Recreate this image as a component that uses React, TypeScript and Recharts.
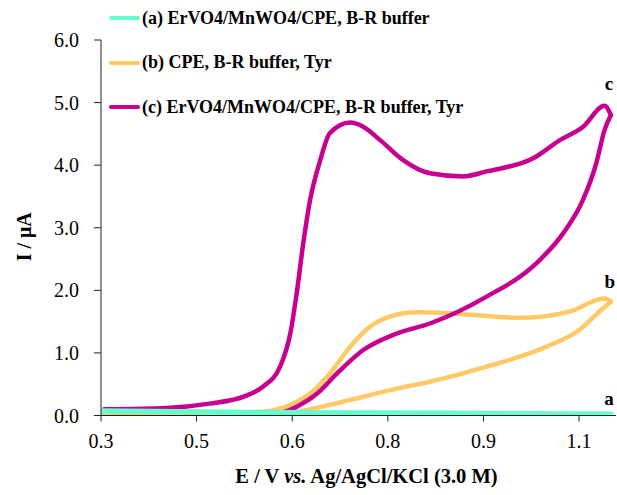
import React from "react";
import { LineChart, Line, XAxis, YAxis, Legend, LabelList } from "recharts";

const FONT = '"Liberation Serif", "Times New Roman", serif';

// (a) ErVO4/MnWO4/CPE in buffer only
const potentialA = [0.3, 0.5, 0.7, 0.9, 1.1];
const currentA = [0.07, 0.05, 0.04, 0.03, 0.02];

// (b) bare CPE with Tyr, anodic sweep then return sweep
const potentialBfwd = [0.3, 0.4, 0.5, 0.555, 0.597, 0.628, 0.659, 0.691, 0.722, 0.753, 0.795, 0.853, 0.905, 0.957, 1.035, 1.09, 1.1];
const currentBfwd = [0.03, 0.03, 0.04, 0.06, 0.17, 0.35, 0.67, 1.1, 1.42, 1.58, 1.65, 1.63, 1.59, 1.56, 1.66, 1.87, 1.82];
const potentialBrev = [1.1, 1.085, 1.051, 0.999, 0.905, 0.816, 0.764, 0.712, 0.659, 0.607, 0.555, 0.45, 0.3];
const currentBrev = [1.82, 1.69, 1.37, 1.1, 0.78, 0.54, 0.43, 0.3, 0.17, 0.06, 0.01, 0.0, 0.0];

// (c) modified electrode with Tyr
const potentialCfwd = [0.305, 0.403, 0.47, 0.526, 0.554, 0.581, 0.597, 0.607, 0.618, 0.628, 0.644, 0.659, 0.691, 0.712, 0.738, 0.774, 0.816, 0.868, 0.905, 0.978, 1.02, 1.056, 1.09, 1.1];
const currentCfwd = [0.1, 0.12, 0.19, 0.31, 0.46, 0.78, 1.31, 1.95, 2.8, 3.44, 4.08, 4.51, 4.68, 4.61, 4.4, 4.08, 3.87, 3.82, 3.9, 4.11, 4.4, 4.61, 4.95, 4.8];
const potentialCrev = [1.1, 1.09, 1.077, 1.056, 1.025, 0.983, 0.905, 0.816, 0.764, 0.712, 0.67, 0.639, 0.607, 0.555, 0.45, 0.305];
const currentCrev = [4.8, 4.56, 4.03, 3.44, 2.91, 2.43, 1.9, 1.47, 1.31, 1.05, 0.67, 0.35, 0.14, -0.02, -0.08, -0.1];

const xTicks = [0.3, 0.45, 0.6, 0.75, 0.9, 1.05];
const xTickLabels = ["0.3", "0.5", "0.6", "0.8", "0.9", "1.1"];
const yTicks = [0, 1, 2, 3, 4, 5, 6];

const zip = (e: number[], i: number[]) => e.map((v, k) => ({ e: v, i: i[k] }));

const series = [
  { key: "a", name: "(a) ErVO4/MnWO4/CPE, B-R buffer", color: "#66FFCC", width: 5.5, fwd: zip(potentialA, currentA), rev: null as any, labelDx: -2, labelDy: -9 },
  { key: "b", name: "(b) CPE, B-R buffer, Tyr", color: "#FFC966", width: 4.5, fwd: zip(potentialBfwd, currentBfwd), rev: zip(potentialBrev, currentBrev), labelDx: -1, labelDy: -14 },
  { key: "c", name: "(c) ErVO4/MnWO4/CPE, B-R buffer, Tyr", color: "#C8008F", width: 4.5, fwd: zip(potentialCfwd, currentCfwd), rev: zip(potentialCrev, currentCrev), labelDx: -2, labelDy: -25 },
];

const tickStyle = { fill: "#000", fontSize: 20, fontFamily: FONT };

const renderLegend = () => (
  <div style={{ fontFamily: FONT, fontWeight: "bold", fontSize: 18, color: "#000", whiteSpace: "nowrap" }}>
    {series.map((s) => (
      <div key={s.key} style={{ display: "flex", alignItems: "center", height: 44.6 }}>
        <span style={{ display: "inline-block", width: 31, height: 4, background: s.color, borderRadius: 2, marginRight: 2 }} />
        <span>{s.name}</span>
      </div>
    ))}
  </div>
);

export default function App() {
  // draw b, c, then a on top
  const order = [series[1], series[2], series[0]];

  return (
    <div style={{ position: "absolute", left: 0, top: 0, width: 617, height: 495, background: "#fff" }}>
      <LineChart width={617} height={495} margin={{ top: 40, right: 1, bottom: 19.5, left: 0 }}>
        <XAxis
          dataKey="e"
          type="number"
          domain={[0.3, 1.108]}
          ticks={xTicks}
          interval={0}
          tickFormatter={(v: number) => xTickLabels[xTicks.indexOf(v)]}
          tick={tickStyle}
          tickSize={6}
          tickMargin={12}
          height={60}
          stroke="#222"
          allowDataOverflow
          label={{
            content: (p: any) => (
              <text
                x={p.viewBox.x + p.viewBox.width / 2 + 8}
                y={p.viewBox.y + 67}
                textAnchor="middle"
                fontFamily={FONT}
                fontWeight="bold"
                fontSize={20.5}
                fill="#000"
              >
                E / V <tspan fontStyle="italic">vs.</tspan> Ag/AgCl/KCl (3.0 M)
              </text>
            ),
          }}
        />
        <YAxis
          type="number"
          domain={[0, 6]}
          ticks={yTicks}
          interval={0}
          tickFormatter={(v: number) => v.toFixed(1)}
          tick={tickStyle}
          tickSize={7}
          tickMargin={15}
          width={101}
          stroke="#222"
          allowDataOverflow
          label={{
            content: (p: any) => {
              const cx = 24;
              const cy = p.viewBox.y + p.viewBox.height / 2 + 9;
              return (
                <text
                  x={cx}
                  y={cy}
                  transform={`rotate(-90 ${cx} ${cy})`}
                  textAnchor="middle"
                  dominantBaseline="central"
                  fontFamily={FONT}
                  fontWeight="bold"
                  fontSize={20}
                  fill="#000"
                >
                  I / μA
                </text>
              );
            },
          }}
        />
        <Legend
          layout="horizontal"
          align="center"
          verticalAlign="middle"
          content={renderLegend}
          wrapperStyle={{ top: -4, left: 109, width: 420 }}
        />
        {order.map((s) => [
          s.rev ? (
            <Line
              key={s.key + "-rev"}
              data={s.rev}
              dataKey="i"
              type="monotone"
              stroke={s.color}
              strokeWidth={s.width}
              strokeLinecap="round"
              dot={false}
              activeDot={false}
              isAnimationActive={false}
            />
          ) : null,
          <Line
            key={s.key + "-fwd"}
            data={s.fwd}
            dataKey="i"
            type="monotone"
            stroke={s.color}
            strokeWidth={s.width}
            strokeLinecap="round"
            dot={false}
            activeDot={false}
            isAnimationActive={false}
          >
            <LabelList
              dataKey="i"
              content={(p: any) =>
                p.index === s.fwd.length - 1 ? (
                  <text
                    x={p.x + s.labelDx}
                    y={p.y + s.labelDy}
                    textAnchor="middle"
                    fontFamily={FONT}
                    fontWeight="bold"
                    fontSize={19}
                    fill="#000"
                  >
                    {s.key}
                  </text>
                ) : null
              }
            />
          </Line>,
        ])}
      </LineChart>
    </div>
  );
}
